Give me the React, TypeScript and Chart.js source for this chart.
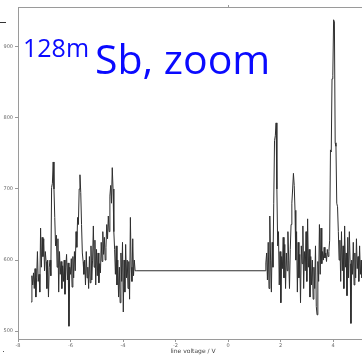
import React, { useEffect, useRef } from "react";
import { Chart, registerables } from "chart.js";

Chart.register(...registerables);

// Sampling grid of the two measured regions (line voltage / V)
const leftStart = -7.5;
const rightStart = 1.44;
const sampleStep = 0.03;

// Counts in the left measured region
const leftValues = [
  541, 578, 565, 582, 560, 588, 548, 575, 612, 570,
  580, 555, 645, 590, 632, 605, 630, 585, 612, 598,
  560, 600, 548, 590, 600, 578, 702, 708, 738, 700,
  660, 620, 635, 590, 630, 555, 612, 580, 598, 560,
  592, 570, 600, 552, 590, 608, 572, 596, 507, 590,
  580, 602, 562, 605, 575, 612, 585, 640, 618, 660,
  650, 700, 720, 695, 650, 610, 598, 580, 600, 565,
  612, 575, 590, 560, 605, 568, 620, 572, 600, 648,
  590, 628, 565, 615, 578, 610, 568, 595, 582, 625,
  598, 640, 608, 632, 600, 618, 650, 630, 662, 640,
  690, 705, 680, 730, 700, 640, 615, 580, 620, 565,
  600, 548, 590, 540, 610, 570, 625, 527, 600, 555,
  622, 575, 600, 560, 598, 545, 660, 590, 570, 630,
  578, 600, 585, 585,
];

// Constant (unscanned) section between the regions
const gapVoltages = [-3.5, 1.41];
const gapValues = [585, 585];

// Counts in the right measured region
const rightValues = [
  596, 610, 572, 625, 560, 662, 600, 555, 625, 590,
  680, 768, 775, 793, 700, 620, 640, 565, 612, 540,
  605, 588, 632, 575, 622, 560, 610, 585, 640, 600,
  560, 615, 650, 680, 700, 722, 705, 670, 600, 640,
  555, 625, 575, 608, 540, 620, 595, 648, 560, 612,
  585, 640, 570, 658, 590, 615, 548, 605, 565, 600,
  545, 590, 560, 620, 535, 523, 598, 570, 650, 580,
  645, 595, 612, 600, 618, 603, 610, 598, 615, 605,
  612, 628, 755, 752, 855, 860, 938, 935, 765, 760,
  680, 675, 640, 600, 628, 570, 640, 585, 620, 560,
  648, 590, 610, 550, 632, 575, 640, 595, 511, 600,
  580, 625, 565, 610, 575, 630, 588, 605, 570, 620,
  580, 600, 575, 612, 585, 598, 580, 605, 590,
];

const xTicks = [-8, -6, -4, -2, 0, 2, 4];
const yTicks = [500, 600, 700, 800, 900];
const xTitle = "line voltage / V";
const titleSup = "128m";
const titleMain = "Sb, zoom";

function buildPoints() {
  const pts: { x: number; y: number }[] = [];
  leftValues.forEach((v, i) => pts.push({ x: +(leftStart + i * sampleStep).toFixed(3), y: v }));
  gapVoltages.forEach((x, i) => pts.push({ x, y: gapValues[i] }));
  rightValues.forEach((v, i) => pts.push({ x: +(rightStart + i * sampleStep).toFixed(3), y: v }));
  return pts;
}

const decorPlugin = {
  id: "decor",
  afterDraw(chart: any) {
    const { ctx, chartArea } = chart;
    ctx.save();
    // top frame line
    ctx.strokeStyle = "#9a9a9a";
    ctx.lineWidth = 1;
    ctx.beginPath();
    ctx.moveTo(chartArea.left, chartArea.top + 0.5);
    ctx.lineTo(chartArea.right, chartArea.top + 0.5);
    ctx.stroke();
    // small tick on the top frame at x = 0
    const x0 = Math.round(chart.scales.x.getPixelForValue(0)) + 0.5;
    ctx.beginPath();
    ctx.moveTo(x0, chartArea.top - 2);
    ctx.lineTo(x0, chartArea.top);
    ctx.stroke();
    // small slide marks
    ctx.strokeStyle = "#333";
    ctx.beginPath();
    ctx.moveTo(0, 22.5);
    ctx.lineTo(6, 22.5);
    ctx.stroke();
    ctx.fillStyle = "#555";
    ctx.fillRect(3, 351, 1, 1);
    // title
    ctx.fillStyle = "#0a0aff";
    ctx.textBaseline = "alphabetic";
    ctx.textAlign = "left";
    ctx.font = '25px "Open Sans"';
    ctx.fillText(titleSup, 23, 57);
    ctx.font = '41px "Open Sans"';
    ctx.fillText(titleMain, 95, 74);
    ctx.restore();
  },
};

export default function App() {
  const ref = useRef<HTMLCanvasElement>(null);
  useEffect(() => {
    if (!ref.current) return;
    const chart = new Chart(ref.current, {
      type: "line",
      data: {
        datasets: [
          {
            data: buildPoints(),
            borderColor: "#2e2e2e",
            borderWidth: 1,
            pointRadius: 0,
            tension: 0,
            fill: false,
          },
        ],
      },
      options: {
        animation: false,
        responsive: false,
        events: [],
        layout: { padding: { top: 7, right: 0, left: 0, bottom: 0 } },
        plugins: { legend: { display: false }, tooltip: { enabled: false } },
        scales: {
          x: {
            type: "linear",
            min: -8,
            max: 5.33,
            afterFit: (s: any) => {
              s.height = 18;
            },
            afterBuildTicks: (s: any) => {
              s.ticks = xTicks.map((v) => ({ value: v }));
            },
            grid: { drawOnChartArea: false, tickLength: 3, color: "#999" },
            border: { color: "#9a9a9a", width: 1 },
            ticks: {
              font: { size: 5, family: "DejaVu Sans" },
              color: "#666",
              padding: 1,
              maxRotation: 0,
              autoSkip: false,
              callback: (v: any) => String(v),
            },
            title: {
              display: true,
              text: xTitle,
              font: { size: 6, family: "DejaVu Sans" },
              color: "#444",
              padding: { top: 0, bottom: 1.5 },
            },
          },
          y: {
            type: "linear",
            min: 489,
            max: 956,
            afterFit: (s: any) => {
              s.width = 18;
            },
            afterBuildTicks: (s: any) => {
              s.ticks = yTicks.map((v) => ({ value: v }));
            },
            grid: { drawOnChartArea: false, tickLength: 3, color: "#999" },
            border: { color: "#9a9a9a", width: 1 },
            ticks: {
              font: { size: 5, family: "DejaVu Sans" },
              color: "#666",
              padding: 2,
              autoSkip: false,
              callback: (v: any) => String(v),
            },
          },
        },
      },
      plugins: [decorPlugin],
    });
    return () => chart.destroy();
  }, []);
  return (
    <div
      style={{
        position: "absolute",
        left: 0,
        top: 0,
        width: 362,
        height: 357,
        overflow: "hidden",
        background: "#fff",
      }}
    >
      <canvas ref={ref} width={368} height={357} style={{ display: "block" }} />
    </div>
  );
}
